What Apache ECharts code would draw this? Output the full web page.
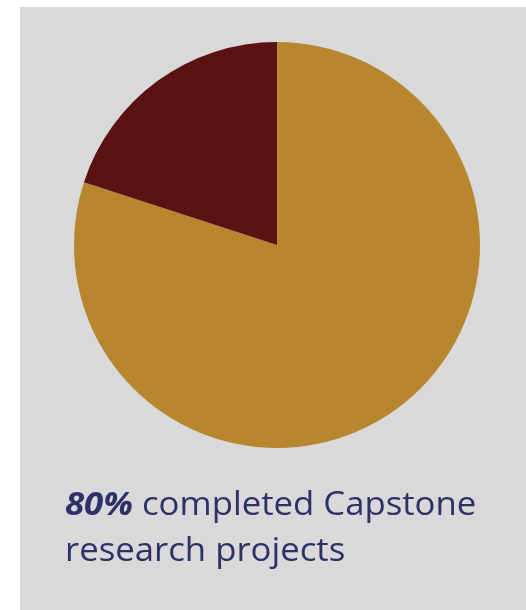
<!DOCTYPE html>
<html>
<head>
<meta charset="utf-8">
<style>
  html, body { margin: 0; padding: 0; background: #ffffff; }
  #chart { width: 526px; height: 610px; }
</style>
<script src="https://cdn.jsdelivr.net/npm/echarts@6/dist/echarts.min.js"></script>
</head>
<body>
<div id="chart"></div>
<script>
// Share of students by Capstone research project status
const categories = ['Completed', 'Not completed'];
const values = [80, 20];
const sliceColors = ['#b8862e', '#5a1312'];
const headline = '80%';
const captionLines = ['completed Capstone', 'research projects'];

const textColor = '#2e3168';
const chart = echarts.init(document.getElementById('chart'), null, { renderer: 'canvas' });

chart.setOption({
  backgroundColor: '#ffffff',
  animation: false,
  graphic: [
    {
      type: 'rect',
      left: 20,
      top: 7,
      shape: { width: 506, height: 603 },
      style: { fill: '#d9d9d9' },
      z: -10
    },
    {
      // caption under the pie, slightly widened
      type: 'text',
      x: 65,
      y: 483,
      scaleX: 1.085,
      style: {
        text: '{b|' + headline + '}{n| ' + captionLines[0] + '}\n{n|' + captionLines[1] + '}',
        verticalAlign: 'top',
        align: 'left',
        rich: {
          b: {
            fontFamily: 'Open Sans',
            fontSize: 32,
            fontWeight: 'bold',
            fontStyle: 'italic',
            fill: textColor,
            lineHeight: 46
          },
          n: {
            fontFamily: 'Open Sans',
            fontSize: 32,
            fontWeight: 500,
            fill: textColor,
            lineHeight: 46
          }
        }
      }
    }
  ],
  series: [
    {
      type: 'pie',
      center: [277, 245],
      radius: [0, 203],
      startAngle: 90,
      clockwise: true,
      label: { show: false },
      labelLine: { show: false },
      emphasis: { disabled: true },
      itemStyle: { borderWidth: 0 },
      data: categories.map((name, i) => ({
        name: name,
        value: values[i],
        itemStyle: { color: sliceColors[i] }
      }))
    }
  ]
});
</script>
</body>
</html>
